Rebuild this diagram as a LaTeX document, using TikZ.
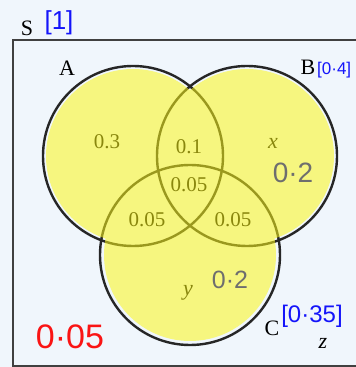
\documentclass[tikz,border=0pt]{standalone}
\usepackage{fontspec}
\setmainfont{Liberation Serif}
\newfontfamily\handfont{Liberation Sans}
\usetikzlibrary{positioning}
\definecolor{bgblue}{RGB}{240,246,252}
\definecolor{hlyellow}{RGB}{251,246,25}
\definecolor{penblue}{RGB}{20,20,250}
\definecolor{pengray}{RGB}{110,110,110}
\definecolor{penred}{RGB}{250,20,20}

\begin{document}
\begin{tikzpicture}[x=1pt, y=1pt,
    setc/.style={draw=black!85, line width=2.4pt, circle, minimum size=180pt, inner sep=0pt},
    lbl/.style={font=\fontsize{22}{26}\selectfont, inner sep=0pt},
    val/.style={font=\fontsize{21}{25}\selectfont, inner sep=0pt},
    var/.style={font=\itshape\fontsize{22}{26}\selectfont, inner sep=0pt},
    ink/.style={font=\handfont\fontsize{28}{32}\selectfont, inner sep=0pt}
]
% background and frame
\fill[bgblue] (0,0) rectangle (356,367);
\useasboundingbox (0,0) rectangle (356,367);
\draw[black!75, line width=2pt] (13,1) rectangle (370,327);

% sets
\node[setc] (setA) at (133,211) {};
\node[setc] (setB) at (247,211) {};
\node[setc] (setC) at (190,112) {};

% labels
\node[lbl] (labS) at (27,339) {S};
\node[lbl] (labA) at (67,299) {A};
\node[lbl] (labB) at (308,300) {B};
\node[lbl] (labC) at (272,39) {C};

% probabilities
\node[val] (pA) at (107,225) {0.3};
\node[val] (pAB) at (189,220) {0.1};
\node[val] (pABC) at (189,182) {0.05};
\node[val] (pAC) at (147,147) {0.05};
\node[val] (pBC) at (233,147) {0.05};
\node[var] (vx) at (273,224) {x};
\node[var] (vy) at (188,74) {y};
\node[var] (vz) at (323,24) {z};

% highlighter
\fill[hlyellow, fill opacity=0.55] (133,211) circle (87) (247,211) circle (87) (190,112) circle (86);

% handwriting
\node[ink, penblue, font=\handfont\fontsize{26}{30}\selectfont] (totS) at (59,344) {[1]};
\node[ink, penblue, font=\handfont\fontsize{17}{22}\selectfont, anchor=west] (totB) at (317,297) {[0·4]};
\node[ink, penblue, font=\handfont\fontsize{24}{28}\selectfont] (totC) at (312,51) {[0·35]};
\node[ink, pengray] (inkx) at (293,194) {0·2};
\node[ink, pengray, font=\handfont\fontsize{25}{30}\selectfont] (inky) at (230,87) {0·2};
\node[ink, penred, font=\handfont\fontsize{34}{38}\selectfont] (inkout) at (70,30) {0·05};
\end{tikzpicture}
\end{document}
